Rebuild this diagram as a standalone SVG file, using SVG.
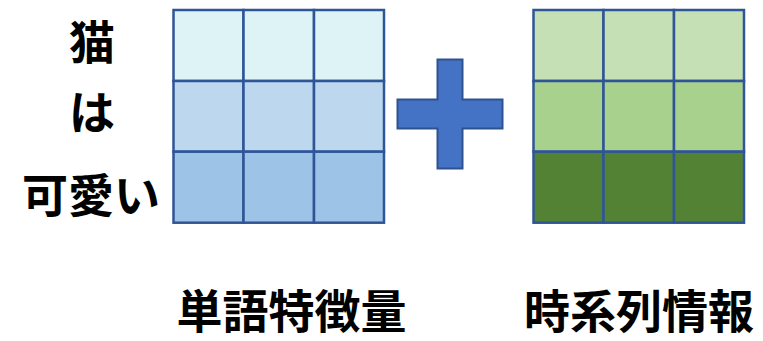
<svg xmlns="http://www.w3.org/2000/svg" width="763" height="341" viewBox="0 0 763 341">
<style>
.cell{stroke:#2F5597;stroke-width:2.5}
.t{font-family:"Noto Sans CJK JP","Noto Sans CJK SC",sans-serif;font-weight:bold;font-size:46px;fill:#000;text-anchor:middle}
.r1{fill:#DDF3F5}.r2{fill:#BDD7EE}.r3{fill:#9DC3E6}
.g1{fill:#C5E0B4}.g2{fill:#A9D18E}.g3{fill:#548235}
</style>
<rect width="763" height="341" fill="#fff"/>
<g id="words">
<text class="t" x="92" y="59">猫</text>
<text class="t" x="92" y="129">は</text>
<text class="t" x="91" y="212">可愛い</text>
</g>
<g id="word-grid">
<rect class="cell r1" x="173.5" y="10" width="70" height="71"/>
<rect class="cell r1" x="243.5" y="10" width="70.5" height="71"/>
<rect class="cell r1" x="314" y="10" width="70" height="71"/>
<rect class="cell r2" x="173.5" y="81" width="70" height="70.7"/>
<rect class="cell r2" x="243.5" y="81" width="70.5" height="70.7"/>
<rect class="cell r2" x="314" y="81" width="70" height="70.7"/>
<rect class="cell r3" x="173.5" y="151.7" width="70" height="71"/>
<rect class="cell r3" x="243.5" y="151.7" width="70.5" height="71"/>
<rect class="cell r3" x="314" y="151.7" width="70" height="71"/>
</g>
<g id="plus">
<path d="M437.5,59.5 H462.5 V99.5 H502.5 V128.5 H462.5 V168.5 H437.5 V128.5 H397.5 V99.5 H437.5 Z" fill="#4472C4" stroke="#2F528F" stroke-width="2"/>
</g>
<g id="time-grid">
<rect class="cell g1" x="533.5" y="10" width="70" height="71"/>
<rect class="cell g1" x="603.5" y="10" width="70.5" height="71"/>
<rect class="cell g1" x="674" y="10" width="70" height="71"/>
<rect class="cell g2" x="533.5" y="81" width="70" height="70.7"/>
<rect class="cell g2" x="603.5" y="81" width="70.5" height="70.7"/>
<rect class="cell g2" x="674" y="81" width="70" height="70.7"/>
<rect class="cell g3" x="533.5" y="151.7" width="70" height="71"/>
<rect class="cell g3" x="603.5" y="151.7" width="70.5" height="71"/>
<rect class="cell g3" x="674" y="151.7" width="70" height="71"/>
</g>
<g id="labels">
<text class="t" x="291.5" y="328">単語特徴量</text>
<text class="t" x="639" y="328">時系列情報</text>
</g>
</svg>
